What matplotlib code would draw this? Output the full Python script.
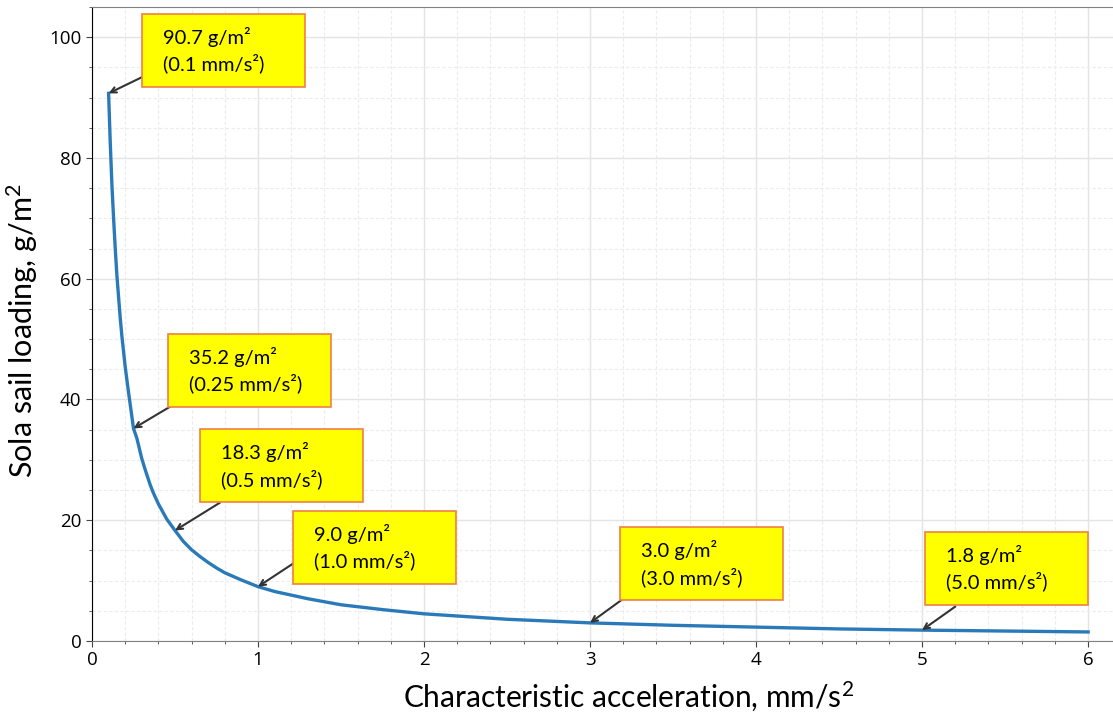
import matplotlib
matplotlib.use("Agg")
import matplotlib.pyplot as plt
from matplotlib.patches import Rectangle
from matplotlib.ticker import MultipleLocator

plt.rcParams['font.family'] = ['Open Sans', 'DejaVu Sans']
plt.rcParams['mathtext.fontset'] = 'custom'
plt.rcParams['mathtext.rm'] = 'Lato'
plt.rcParams['mathtext.it'] = 'Lato:italic'
LBL = ['Lato', 'DejaVu Sans']

# curve
accel = [0.1, 0.11, 0.12, 0.13, 0.14, 0.15, 0.17, 0.18, 0.2, 0.22, 0.25, 0.27, 0.3, 0.32,
         0.35, 0.37, 0.4, 0.45, 0.5, 0.55, 0.6, 0.65, 0.7, 0.75, 0.8, 0.9,
         1.0, 1.1, 1.2, 1.3, 1.4, 1.5, 1.75, 2.0, 2.5, 3.0, 3.5, 4.0, 4.5, 5.0, 5.5, 6.0]
loading = [90.7, 82.5, 75.5, 70.0, 65.0, 60.5, 53.5, 50.5, 45.4, 41.2, 35.2, 33.6, 30.2, 28.4,
           25.9, 24.5, 22.7, 20.2, 18.3, 16.5, 15.1, 14.0, 13.0, 12.1, 11.3, 10.1,
           9.0, 8.2, 7.6, 7.0, 6.5, 6.0, 5.2, 4.5, 3.6, 3.0, 2.6, 2.3, 2.0, 1.8, 1.65, 1.5]

# annotated points
ann_x = [0.1, 0.25, 0.5, 1.0, 3.0, 5.0]
ann_y = [90.7, 35.2, 18.3, 9.0, 3.0, 1.8]
ann_text = ["90.7 g/m²\n(0.1 mm/s²)", "35.2 g/m²\n(0.25 mm/s²)", "18.3 g/m²\n(0.5 mm/s²)",
            "9.0 g/m²\n(1.0 mm/s²)", "3.0 g/m²\n(3.0 mm/s²)", "1.8 g/m²\n(5.0 mm/s²)"]
# box lower-left corners in data coords, and arrow start points
box_xy = [(0.30, 91.8), (0.46, 38.8), (0.65, 23.0), (1.21, 9.5), (3.18, 6.8), (5.02, 6.0)]
arrow_from = [(0.31, 93.5), (0.47, 38.8), (0.77, 22.9), (1.21, 12.8), (3.19, 6.8), (5.20, 5.7)]

fig = plt.figure(figsize=(11.13, 7.15), dpi=100)
ax = fig.add_axes([92 / 1113, 1 - 641 / 715, 1 - 92 / 1113, (641 - 7) / 715])

ax.plot(accel, loading, color='#2a7ab9', lw=2.4, zorder=3)

ax.set_xlim(0, 6.15)
ax.set_ylim(0, 105)
ax.xaxis.set_major_locator(MultipleLocator(1))
ax.xaxis.set_minor_locator(MultipleLocator(0.2))
ax.yaxis.set_major_locator(MultipleLocator(20))
ax.yaxis.set_minor_locator(MultipleLocator(5))
ax.grid(which='major', color='#e4e4e4', lw=1.0)
ax.grid(which='minor', color='#ececec', lw=0.8, ls=(0, (3, 2)))
ax.set_axisbelow(True)
ax.tick_params(which='both', direction='out', colors='#444444', labelcolor='black',
               labelsize=13.5)
ax.tick_params(which='major', length=4)
ax.tick_params(which='minor', length=2.5)
for s in ['top', 'bottom']:
    ax.spines[s].set_color('#808080')
ax.spines['left'].set_color('black')
ax.spines['right'].set_visible(False)

ax.set_xlabel('Characteristic acceleration, mm/s$^2$', fontsize=21.5, family=LBL)
ax.set_ylabel('Sola sail loading, g/m$^2$', fontsize=22, family=LBL)
ax.xaxis.set_label_coords(0.526, -0.062)
ax.yaxis.set_label_coords(-0.051, 0.49)

bw, bh = 0.98, 12.1
for x, y, t, (bx, by), (fx, fy) in zip(ann_x, ann_y, ann_text, box_xy, arrow_from):
    ax.add_patch(Rectangle((bx, by), bw, bh, facecolor='#ffff00', edgecolor='#f07f45',
                           lw=1.2, zorder=5))
    ax.text(bx + 0.125, by + bh / 2, t, fontsize=14.5, va='center', ha='left',
            linespacing=1.4, zorder=6, family=LBL)
    ax.annotate('', xy=(x, y), xytext=(fx, fy),
                arrowprops=dict(arrowstyle='->', color='#333333', lw=1.5,
                                shrinkA=0, shrinkB=0), zorder=4)

fig.savefig('out.png', dpi=100)
